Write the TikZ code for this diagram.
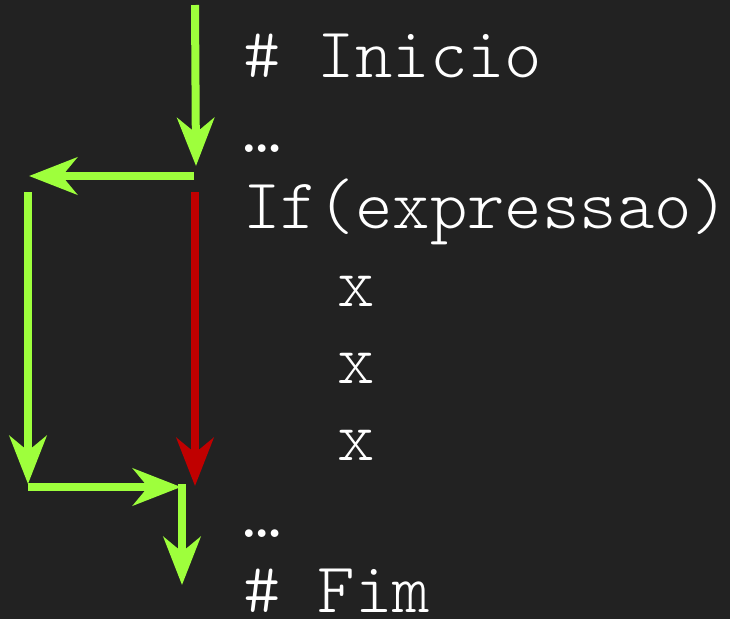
\documentclass[tikz,border=0pt]{standalone}
\usepackage{fontspec}
\setmonofont{Latin Modern Mono Light}
\usetikzlibrary{arrows.meta}
\definecolor{bg}{HTML}{222222}
\definecolor{lime}{HTML}{9EFF3C}
\definecolor{darkred}{HTML}{C00000}
\begin{document}
\begin{tikzpicture}[x=1pt,y=-1pt,
  code/.style={anchor=base west,inner sep=0pt,text=white,font=\ttfamily\fontsize{71.2}{77}\selectfont},
  flow/.style={line width=8pt,draw=lime,-{Stealth[length=48pt,width=37pt,inset=15pt]}},
  flowred/.style={flow,draw=darkred}]
\fill[bg] (0,0) rectangle (730,619);
\useasboundingbox (0,0) rectangle (730,619);
\node[code] (l1) at (243,77) {\# Inicio};
\node[code] (l2) at (243,152) {…};
\node[code] (l3) at (243,228) {If(expressao)};
\node[code] (l4) at (337,306) {x};
\node[code] (l5) at (337,383) {x};
\node[code] (l6) at (337,460) {x};
\node[code] (l7) at (243,537) {…};
\node[code] (l8) at (243,612) {\# Fim};
\coordinate (a0) at (195,5);
\coordinate (a1) at (196,166);
\coordinate (b0) at (194,176);
\coordinate (b1) at (29,176);
\coordinate (c0) at (28,192);
\coordinate (c1) at (28,484);
\coordinate (r0) at (195,192);
\coordinate (r1) at (195,486);
\coordinate (d0) at (28,487);
\coordinate (d1) at (181,487);
\coordinate (e0) at (182,484);
\coordinate (e1) at (182,585);
\draw[flow] (a0) -- (a1);
\draw[flow] (b0) -- (b1);
\draw[flow] (c0) -- (c1);
\draw[flowred] (r0) -- (r1);
\draw[flow] (d0) -- (d1);
\draw[flow] (e0) -- (e1);
\end{tikzpicture}
\end{document}
